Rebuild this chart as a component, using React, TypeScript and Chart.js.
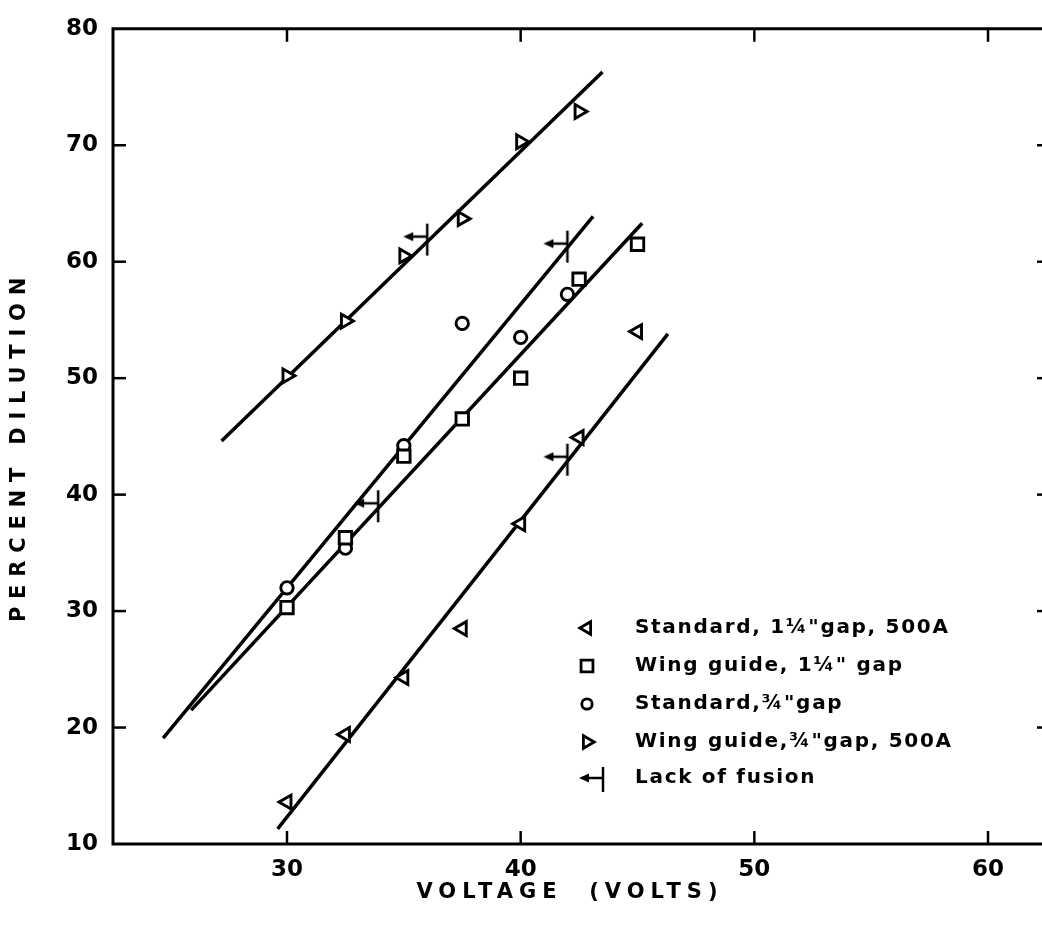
import React, { useEffect, useRef } from "react";
import { Chart, registerables } from "chart.js";

Chart.register(...registerables);

// ---- tick labels ----
const xTicks = [30, 40, 50, 60];
const yTicks = [10, 20, 30, 40, 50, 60, 70, 80];

// ---- measured points ----
// Standard, 1 1/4" gap, 500A (left-pointing triangles)
const stdWideX = [30, 32.5, 35, 37.5, 40, 42.5, 45];
const stdWideY = [13.6, 19.4, 24.3, 28.5, 37.5, 44.9, 54.0];
// Wing guide, 1 1/4" gap (squares)
const wingWideX = [30, 32.5, 35, 37.5, 40, 42.5, 45];
const wingWideY = [30.3, 36.3, 43.3, 46.5, 50.0, 58.5, 61.5];
// Standard, 3/4" gap (circles)
const stdNarrowX = [30, 32.5, 35, 37.5, 40, 42];
const stdNarrowY = [32.0, 35.4, 44.2, 54.7, 53.5, 57.2];
// Wing guide, 3/4" gap, 500A (right-pointing triangles)
const wingNarrowX = [30, 32.5, 35, 37.5, 40, 42.5];
const wingNarrowY = [50.2, 54.9, 60.5, 63.7, 70.3, 72.9];
// Lack of fusion markers
const lofX = [36.0, 42.0, 33.9, 42.0];
const lofY = [61.9, 61.3, 39.0, 43.0];

// ---- fitted lines (end points) ----
const fitStdWideX = [29.6, 46.3];
const fitStdWideY = [11.3, 53.8];
const fitWingWideX = [25.9, 45.2];
const fitWingWideY = [21.5, 63.3];
const fitStdNarrowX = [24.7, 43.1];
const fitStdNarrowY = [19.1, 63.9];
const fitWingNarrowX = [27.2, 43.5];
const fitWingNarrowY = [44.6, 76.3];

const legendLabels = [
  "Standard, 1\u00BC\"gap, 500A",
  "Wing guide, 1\u00BC\" gap",
  "Standard,\u00BE\"gap",
  "Wing guide,\u00BE\"gap, 500A",
  "Lack of fusion",
];

const xTitle = "VOLTAGE  (VOLTS)";
const yTitle = "PERCENT DILUTION";

const FONT = '"DejaVu Sans", sans-serif';

const pts = (xs: number[], ys: number[]) => xs.map((x, i) => ({ x, y: ys[i] }));

function makeLofImage(): HTMLCanvasElement {
  const c = document.createElement("canvas");
  c.width = 52;
  c.height = 36;
  const g = c.getContext("2d")!;
  g.strokeStyle = "#000";
  g.fillStyle = "#000";
  g.lineWidth = 2.5;
  g.beginPath();
  g.moveTo(26, 2);
  g.lineTo(26, 34);
  g.stroke();
  g.beginPath();
  g.moveTo(9, 15);
  g.lineTo(26, 15);
  g.stroke();
  g.beginPath();
  g.moveTo(2, 15);
  g.lineTo(12, 10.5);
  g.lineTo(12, 19.5);
  g.closePath();
  g.fill();
  return c;
}

function drawShape(ctx: CanvasRenderingContext2D, style: string, x: number, y: number, r: number, rotDeg: number) {
  ctx.beginPath();
  if (style === "circle") {
    ctx.arc(x, y, r, 0, Math.PI * 2);
  } else if (style === "rect") {
    const s = r * Math.SQRT1_2;
    ctx.rect(x - s, y - s, 2 * s, 2 * s);
  } else {
    let a = (rotDeg * Math.PI) / 180;
    ctx.moveTo(x + Math.sin(a) * r, y - Math.cos(a) * r);
    a += (2 * Math.PI) / 3;
    ctx.lineTo(x + Math.sin(a) * r, y - Math.cos(a) * r);
    a += (2 * Math.PI) / 3;
    ctx.lineTo(x + Math.sin(a) * r, y - Math.cos(a) * r);
    ctx.closePath();
  }
  ctx.fillStyle = "#fff";
  ctx.fill();
  ctx.stroke();
}

const framePlugin = {
  id: "frameAndLegend",
  afterDraw(chart: any) {
    const { ctx, chartArea: a, scales } = chart;
    ctx.save();
    ctx.strokeStyle = "#000";
    ctx.lineWidth = 3;
    // frame: left, top, bottom (right side lies just beyond the visible page)
    ctx.beginPath();
    ctx.moveTo(a.right + 2, a.top);
    ctx.lineTo(a.left, a.top);
    ctx.lineTo(a.left, a.bottom);
    ctx.lineTo(a.right + 2, a.bottom);
    ctx.stroke();
    ctx.lineWidth = 2.5;
    const tl = 13;
    const rightEdge = a.right + 8;
    const seg = (x1: number, y1: number, x2: number, y2: number) => {
      ctx.beginPath();
      ctx.moveTo(x1, y1);
      ctx.lineTo(x2, y2);
      ctx.stroke();
    };
    for (const v of yTicks) {
      if (v === scales.y.min || v === scales.y.max) continue;
      const y = scales.y.getPixelForValue(v);
      seg(a.left, y, a.left + tl, y);
      seg(rightEdge, y, rightEdge - tl, y);
    }
    for (const v of xTicks) {
      const x = scales.x.getPixelForValue(v);
      seg(x, a.bottom, x, a.bottom - tl);
      seg(x, a.top, x, a.top + tl);
    }

    // axis titles
    ctx.fillStyle = "#000";
    ctx.font = `bold 21px ${FONT}`;
    ctx.textAlign = "center";
    ctx.textBaseline = "middle";
    (ctx as any).letterSpacing = "6px";
    ctx.fillText(xTitle, 570, 893);
    ctx.save();
    ctx.translate(20, 446);
    ctx.rotate(-Math.PI / 2);
    (ctx as any).letterSpacing = "7.8px";
    ctx.fillText(yTitle, 0, 0);
    ctx.restore();

    // legend
    const mx = 587;
    const tx = 635;
    const rows = [628, 666, 704, 742, 778];
    ctx.lineWidth = 2.8;
    ctx.strokeStyle = "#000";
    drawShape(ctx, "triangle", mx, rows[0], 7.2, 270);
    drawShape(ctx, "rect", mx, rows[1], 8.4, 0);
    drawShape(ctx, "circle", mx, rows[2], 5.2, 0);
    drawShape(ctx, "triangle", mx, rows[3], 7.2, 90);
    // lack of fusion legend marker
    ctx.lineWidth = 2.5;
    seg(603, rows[4] - 11, 603, rows[4] + 14);
    seg(586, rows[4], 603, rows[4]);
    ctx.beginPath();
    ctx.moveTo(579, rows[4]);
    ctx.lineTo(589, rows[4] - 4.5);
    ctx.lineTo(589, rows[4] + 4.5);
    ctx.closePath();
    ctx.fillStyle = "#000";
    ctx.fill();

    ctx.font = `bold 20px ${FONT}`;
    ctx.textAlign = "left";
    ctx.textBaseline = "middle";
    (ctx as any).letterSpacing = "1.7px";
    legendLabels.forEach((t, i) => ctx.fillText(t, tx, rows[i]));
    ctx.restore();
  },
};

export default function App() {
  const ref = useRef<HTMLCanvasElement | null>(null);
  useEffect(() => {
    if (!ref.current) return;
    const lof = makeLofImage();
    const lineDs = (xs: number[], ys: number[]) => ({
      data: pts(xs, ys),
      showLine: true,
      borderColor: "#000",
      borderWidth: 3.5,
      pointRadius: 0,
      fill: false,
      order: 3,
    });
    const markDs = (xs: number[], ys: number[], style: string, r: number, rot = 0) => ({
      data: pts(xs, ys),
      showLine: false,
      pointStyle: style,
      pointRadius: r,
      pointRotation: rot,
      pointBorderWidth: 2.9,
      pointBorderColor: "#000",
      pointBackgroundColor: "#fff",
      order: 1,
    });
    const chart = new Chart(ref.current, {
      type: "scatter",
      data: {
        datasets: [
          lineDs(fitStdWideX, fitStdWideY),
          lineDs(fitWingWideX, fitWingWideY),
          lineDs(fitStdNarrowX, fitStdNarrowY),
          lineDs(fitWingNarrowX, fitWingNarrowY),
          markDs(stdWideX, stdWideY, "triangle", 8, 270),
          markDs(wingWideX, wingWideY, "rect", 8.8),
          markDs(stdNarrowX, stdNarrowY, "circle", 6.2),
          markDs(wingNarrowX, wingNarrowY, "triangle", 8, 90),
          {
            data: pts(lofX, lofY),
            showLine: false,
            pointStyle: lof as any,
            pointRadius: 10,
            order: 0,
          },
        ] as any,
      },
      options: {
        responsive: false,
        devicePixelRatio: 1,
        animation: false,
        events: [],
        layout: { autoPadding: false, padding: { top: 19, right: 0, left: 0, bottom: 0 } },
        plugins: { legend: { display: false }, tooltip: { enabled: false } },
        scales: {
          x: {
            type: "linear",
            min: 22.554,
            max: 62.31,
            afterBuildTicks: (s: any) => {
              s.ticks = xTicks.map((v) => ({ value: v }));
            },
            afterFit: (s: any) => {
              s.height = 91;
            },
            grid: { display: false, drawTicks: false },
            border: { display: false },
            ticks: {
              padding: 12,
              color: "#000",
              font: { family: FONT, size: 23, weight: "bold" },
            },
          },
          y: {
            type: "linear",
            min: 10,
            max: 80,
            afterBuildTicks: (s: any) => {
              s.ticks = yTicks.map((v) => ({ value: v }));
            },
            afterFit: (s: any) => {
              s.width = 113;
            },
            grid: { display: false, drawTicks: false },
            border: { display: false },
            ticks: {
              padding: 15,
              color: "#000",
              font: { family: FONT, size: 23, weight: "bold" },
            },
          },
        },
      },
      plugins: [framePlugin],
    } as any);
    return () => chart.destroy();
  }, []);
  return (
    <div
      style={{
        position: "fixed",
        left: 0,
        top: 0,
        width: 1042,
        height: 935,
        overflow: "hidden",
        background: "#fff",
      }}
    >
      <canvas ref={ref} width={1042} height={935} style={{ display: "block" }} />
    </div>
  );
}
